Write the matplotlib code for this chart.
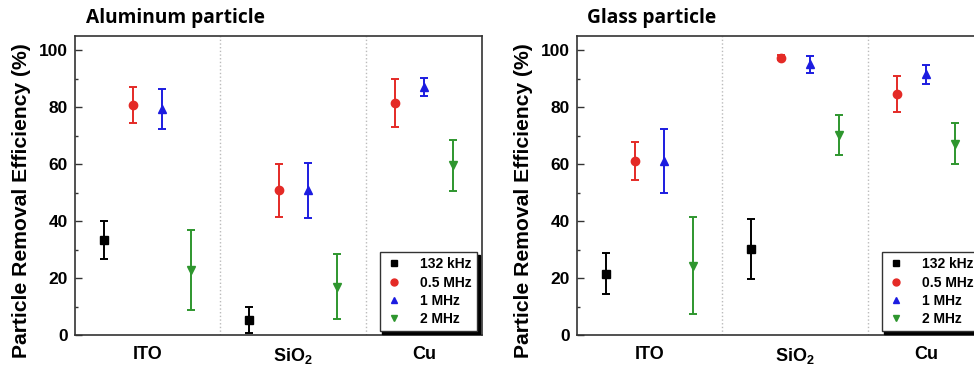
import matplotlib
matplotlib.use("Agg")
import matplotlib.pyplot as plt
from matplotlib.lines import Line2D
import numpy as np

plt.rcParams['font.family'] = ['Liberation Sans', 'DejaVu Sans']
plt.rcParams['font.weight'] = 'bold'
plt.rcParams['mathtext.fontset'] = 'custom'
plt.rcParams['mathtext.bf'] = 'Liberation Sans:bold'
plt.rcParams['mathtext.rm'] = 'Liberation Sans:bold'
plt.rcParams['mathtext.default'] = 'bf'

categories = ['ITO', 'SiO$_2$', 'Cu']
series = ['132 kHz', '0.5 MHz', '1 MHz', '2 MHz']

# Aluminum particle: values per category (ITO, SiO2, Cu); None = not measured
al_132k = [33.4, 5.3, None]
al_132k_err = [6.7, 4.5, None]
al_05M = [80.8, 50.8, 81.5]
al_05M_err = [6.3, 9.3, 8.4]
al_1M = [79.4, 50.8, 87.0]
al_1M_err = [7.1, 9.7, 3.1]
al_2M = [22.9, 17.0, 59.6]
al_2M_err = [14.0, 11.3, 9.0]

# Glass particle
gl_132k = [21.5, 30.1, None]
gl_132k_err = [7.2, 10.6, None]
gl_05M = [61.2, 97.4, 84.5]
gl_05M_err = [6.6, 1.0, 6.3]
gl_1M = [61.2, 95.0, 91.6]
gl_1M_err = [11.2, 2.9, 3.3]
gl_2M = [24.3, 70.3, 67.2]
gl_2M_err = [17.0, 7.1, 7.3]

colors = ['black', '#e42a26', '#1c1ce0', '#2e962e']
markers = ['s', 'o', '^', 'v']

W, H = 974, 370
fig = plt.figure(figsize=(W / 100, H / 100), dpi=100)


def draw(ax, data, errs, title, title_x):
    # category groups: series i of category c sits at position 5*c + i + 1
    for i, (vals, evs) in enumerate(zip(data, errs)):
        xs, ys, es = [], [], []
        for c, (v, e) in enumerate(zip(vals, evs)):
            if v is None:
                continue
            xs.append(5 * c + i + 1 - (1 if c == 2 else 0))
            ys.append(v)
            es.append(e)
        ax.errorbar(xs, ys, yerr=es, fmt=markers[i], color=colors[i],
                    ecolor=colors[i], markersize=6, capsize=3,
                    elinewidth=1.4, capthick=1.4)
    for xd in (5, 10):
        ax.axvline(xd, color='#bbbbbb', linestyle=':', linewidth=1.0, zorder=0)
    ax.set_xlim(0, 14)
    ax.set_ylim(0, 105)
    ax.set_yticks([0, 20, 40, 60, 80, 100])
    ax.set_yticks([10, 30, 50, 70, 90], minor=True)
    ax.set_xticks([2.5, 7.5, 12])
    ax.set_xticklabels(categories, fontsize=13, fontweight='bold')
    ax.tick_params(axis='x', length=0, pad=8)
    ax.tick_params(axis='y', which='major', direction='in', length=5,
                   width=1, labelsize=12.5, pad=5, color='#333333')
    ax.tick_params(axis='y', which='minor', direction='in', length=2.5,
                   width=1, color='#333333')
    for lbl in ax.get_yticklabels():
        lbl.set_fontweight('bold')
    for s in ax.spines.values():
        s.set_color('#333333')
        s.set_linewidth(1.2)
    ax.set_ylabel('Particle Removal Efficiency (%)', fontsize=15.2,
                  fontweight='bold')
    ax.yaxis.set_label_coords(-0.107, 0.45)
    handles = [Line2D([], [], linestyle='none', marker=markers[i],
                      color=colors[i], markersize=5) for i in range(4)]
    leg = ax.legend(handles, series, loc='lower right',
                    bbox_to_anchor=(0.988, 0.012),
                    frameon=True, fancybox=False,
                    shadow={'color': 'black', 'alpha': 1.0},
                    prop={'weight': 'bold', 'size': 10},
                    handlelength=1.2, handletextpad=1.3, labelspacing=0.3,
                    borderpad=0.4, borderaxespad=0.0)
    leg.get_frame().set_edgecolor('#333333')
    leg.get_frame().set_linewidth(1.0)
    fig.text(title_x / W, 1 - 18 / H, title, fontsize=13.8, fontweight='bold',
             family=['Open Sans', 'DejaVu Sans'], ha='left', va='center')


ax1 = fig.add_axes([75 / W, 35 / H, 407 / W, 299 / H])
draw(ax1, [al_132k, al_05M, al_1M, al_2M],
     [al_132k_err, al_05M_err, al_1M_err, al_2M_err], 'Aluminum particle', 86)

ax2 = fig.add_axes([577 / W, 35 / H, 407 / W, 299 / H])
draw(ax2, [gl_132k, gl_05M, gl_1M, gl_2M],
     [gl_132k_err, gl_05M_err, gl_1M_err, gl_2M_err], 'Glass particle', 587)

fig.savefig('out.png', dpi=100)
